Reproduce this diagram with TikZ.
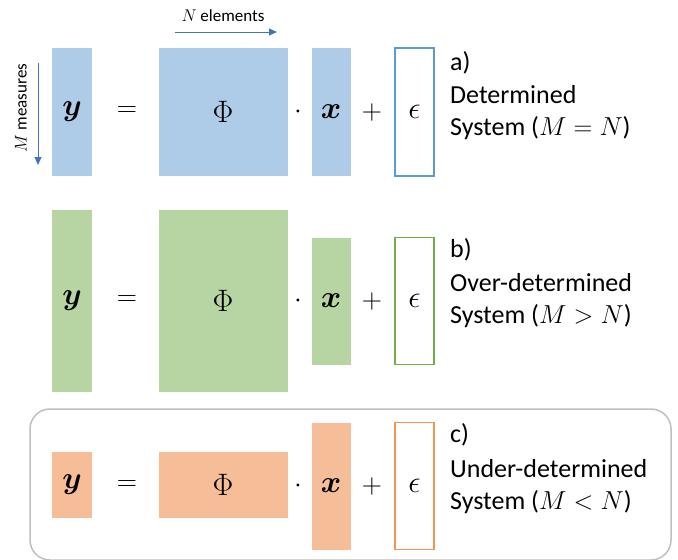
\RequirePackage{fix-cm}
\documentclass[tikz,border=0pt]{standalone}
\usepackage{amsmath,amssymb}
\usepackage{fontspec}
\setmainfont{Carlito}
\usepackage{tikz}
\usetikzlibrary{arrows.meta}

\definecolor{blueFill}{HTML}{AECBE8}
\definecolor{blueLine}{HTML}{5B9BD5}
\definecolor{greenFill}{HTML}{B7D5A3}
\definecolor{greenLine}{HTML}{70AD47}
\definecolor{orangeFill}{HTML}{F5BE98}
\definecolor{orangeLine}{HTML}{F09552}
\definecolor{arrowBlue}{HTML}{4472C4}
\definecolor{frameGray}{HTML}{BFBFBF}

\tikzset{
  mat/.style={rectangle, inner sep=0, fill=#1, font=\fontsize{31}{33}\selectfont},
  err/.style={rectangle, inner sep=0, draw=#1, line width=1.5pt, font=\fontsize{31}{33}\selectfont},
  op/.style={inner sep=0, font=\fontsize{28}{30}\selectfont},
  tag/.style={anchor=west, inner sep=0, font=\fontsize{26}{32}\selectfont},
  desc/.style={anchor=west, inner sep=0, align=left, font=\fontsize{26}{32}\selectfont},
  small/.style={inner sep=0, font=\fontsize{17}{19}\selectfont},
  axisarrow/.style={draw=arrowBlue, line width=1pt, -{Triangle[length=8pt,width=7pt]}},
  frame/.style={draw=frameGray, line width=1.5pt, rounded corners=20pt},
}

\begin{document}
\begin{tikzpicture}[x=1pt,y=-1pt]
    \useasboundingbox (0,0) rectangle (678,560);
    % sizes of the two axes
    \node[small] (nlabel) at (223,16) {$N$ elements};
    \coordinate (nstart) at (175,32);
    \coordinate (nend) at (277,32);
    \draw[axisarrow] (nstart) -- (nend);
    \node[small, rotate=90] (mlabel) at (21,108) {$M$ measures};
    \coordinate (mstart) at (38,63);
    \coordinate (mend) at (38,165);
    \draw[axisarrow] (mstart) -- (mend);
    % a) determined
    \begin{scope}
      \node[mat=blueFill, minimum width=40, minimum height=128] (ya) at (72,112) {$\boldsymbol{y}$};
      \node[op] (eqa) at (127,112) {$=$};
      \node[mat=blueFill, minimum width=129, minimum height=128] (phia) at (223,112) {$\Phi$};
      \node[op] (dota) at (298,112) {$\cdot$};
      \node[mat=blueFill, minimum width=39, minimum height=128] (xa) at (331,112) {$\boldsymbol{x}$};
      \node[op] (plusa) at (372,112) {$+$};
      \node[err=blueLine, minimum width=39, minimum height=128] (epsa) at (414.5,112) {$\epsilon$};
      \node[tag] (taga) at (450,63) {a)};
      \node[desc] (desca) at (450,113) {Determined\\System ($M=N$)};
    \end{scope}
    % b) over-determined
    \begin{scope}
      \node[mat=greenFill, minimum width=40, minimum height=182] (yb) at (72,301) {$\boldsymbol{y}$};
      \node[op] (eqb) at (127,301) {$=$};
      \node[mat=greenFill, minimum width=129, minimum height=182] (phib) at (223,301) {$\Phi$};
      \node[op] (dotb) at (298,301) {$\cdot$};
      \node[mat=greenFill, minimum width=39, minimum height=127] (xb) at (331,301) {$\boldsymbol{x}$};
      \node[op] (plusb) at (372,301) {$+$};
      \node[err=greenLine, minimum width=39, minimum height=127] (epsb) at (414.5,301) {$\epsilon$};
      \node[tag] (tagb) at (450,250) {b)};
      \node[desc] (descb) at (450,301) {Over-determined\\System ($M>N$)};
    \end{scope}
    % c) under-determined
    \draw[frame] (30,409) rectangle (671,560);
    \begin{scope}
      \node[mat=orangeFill, minimum width=40, minimum height=66] (yc) at (72,485) {$\boldsymbol{y}$};
      \node[op] (eqc) at (127,486) {$=$};
      \node[mat=orangeFill, minimum width=129, minimum height=66] (phic) at (223,485) {$\Phi$};
      \node[op] (dotc) at (298,486) {$\cdot$};
      \node[mat=orangeFill, minimum width=39, minimum height=127] (xc) at (331,486) {$\boldsymbol{x}$};
      \node[op] (plusc) at (372,486) {$+$};
      \node[err=orangeLine, minimum width=39, minimum height=127] (epsc) at (414.5,486) {$\epsilon$};
      \node[tag] (tagc) at (450,435) {c)};
      \node[desc] (descc) at (450,487) {Under-determined\\System ($M<N$)};
    \end{scope}
  \end{tikzpicture}
\end{document}
